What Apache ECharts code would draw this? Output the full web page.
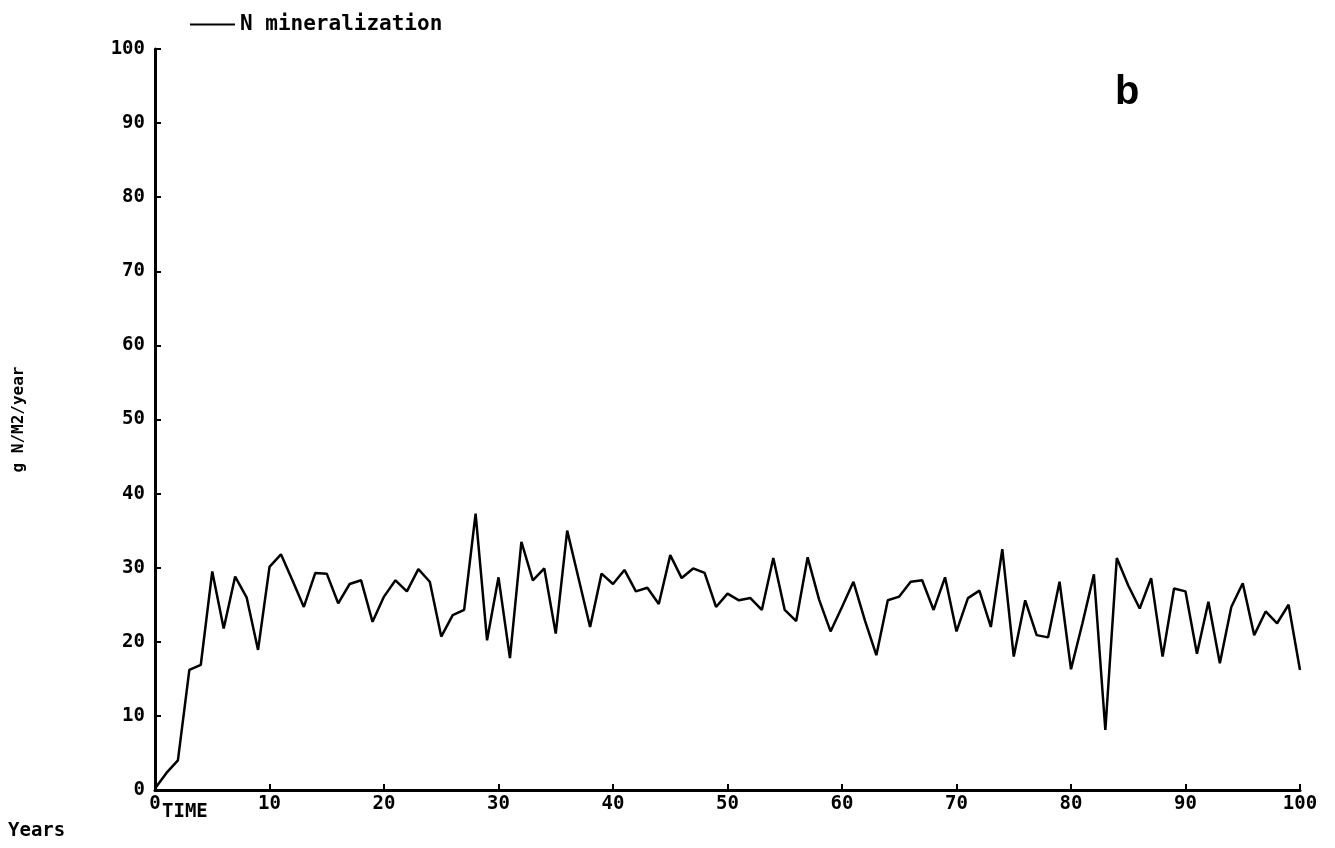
<!DOCTYPE html>
<html>
<head>
<meta charset="utf-8">
<script src="https://cdn.jsdelivr.net/npm/echarts@6/dist/echarts.min.js"></script>
<style>
html,body{margin:0;padding:0;background:#fff;}
#chart{width:1335px;height:848px;}
</style>
</head>
<body>
<div id="chart"></div>
<script>
// Years 0..100
const years = Array.from({length: 101}, (_, i) => i);
const seriesName = 'N mineralization';
const nMineralization = [
  0.2, 2.3, 4.0, 16.2, 16.9, 29.5, 21.8, 28.8, 26.0, 18.9,
  30.1, 31.8, 28.3, 24.7, 29.3, 29.2, 25.2, 27.8, 28.3, 22.7,
  26.1, 28.3, 26.8, 29.8, 28.1, 20.7, 23.6, 24.3, 37.3, 20.2,
  28.7, 17.8, 33.5, 28.3, 29.9, 21.1, 35.0, 28.5, 22.0, 29.2,
  27.8, 29.7, 26.8, 27.3, 25.1, 31.7, 28.6, 29.9, 29.3, 24.7,
  26.5, 25.6, 25.9, 24.3, 31.3, 24.3, 22.8, 31.4, 25.7, 21.4,
  24.7, 28.1, 22.9, 18.2, 25.6, 26.1, 28.1, 28.3, 24.3, 28.7,
  21.4, 25.9, 26.9, 22.0, 32.5, 18.0, 25.6, 20.9, 20.6, 28.1,
  16.3, 22.5, 29.1, 8.1, 31.3, 27.6, 24.5, 28.6, 18.0, 27.2,
  26.8, 18.4, 25.4, 17.1, 24.7, 27.9, 20.9, 24.1, 22.5, 25.0,
  16.2
];
const yTicks = [0, 10, 20, 30, 40, 50, 60, 70, 80, 90, 100];
const xTicks = [0, 10, 20, 30, 40, 50, 60, 70, 80, 90, 100];

const pts = years.map((y, i) => [y, nMineralization[i]]);
const labelFont = {fontFamily: 'DejaVu Sans Mono', fontWeight: 'bold', fontSize: 19, color: '#000'};

const chart = echarts.init(document.getElementById('chart'));
chart.setOption({
  backgroundColor: '#fff',
  animation: false,
  grid: {left: 155, right: 35, top: 49, bottom: 58, containLabel: false},
  legend: {
    left: 185, top: 9,
    data: [seriesName],
    icon: 'rect',
    itemWidth: 45, itemHeight: 2,
    itemGap: 5,
    textStyle: {fontFamily: 'DejaVu Sans Mono', fontWeight: 'bold', fontSize: 21, color: '#000'}
  },
  xAxis: {
    type: 'value', min: xTicks[0], max: xTicks[xTicks.length - 1], interval: 10,
    axisLine: {show: true, lineStyle: {color: '#000', width: 3}},
    axisTick: {show: true, inside: true, length: 6, lineStyle: {color: '#000', width: 2}},
    axisLabel: Object.assign({margin: 5}, labelFont),
    splitLine: {show: false}
  },
  yAxis: {
    type: 'value', min: yTicks[0], max: yTicks[yTicks.length - 1], interval: 10,
    name: 'g N/M2/year',
    nameLocation: 'middle',
    nameGap: 128,
    nameTextStyle: {fontFamily: 'DejaVu Sans Mono', fontWeight: 'bold', fontSize: 16, color: '#000'},
    axisLine: {show: true, lineStyle: {color: '#000', width: 3}},
    axisTick: {show: true, inside: true, length: 6, lineStyle: {color: '#000', width: 2}},
    axisLabel: Object.assign({margin: 10}, labelFont),
    splitLine: {show: false}
  },
  graphic: [
    {type: 'text', left: 162, top: 803, style: {text: 'TIME', fontFamily: 'DejaVu Sans Mono', fontWeight: 'bold', fontSize: 19, fill: '#000'}},
    {type: 'text', left: 8, top: 822, style: {text: 'Years', fontFamily: 'DejaVu Sans Mono', fontWeight: 'bold', fontSize: 19, fill: '#000'}},
    {type: 'text', left: 1115, top: 73, style: {text: 'b', fontFamily: 'Liberation Sans', fontWeight: 'bold', fontSize: 40, fill: '#000'}}
  ],
  series: [{
    name: seriesName,
    type: 'line',
    data: pts,
    showSymbol: false,
    symbol: 'none',
    lineStyle: {color: '#000', width: 2.5},
    itemStyle: {color: '#000'}
  }]
});
</script>
</body>
</html>
